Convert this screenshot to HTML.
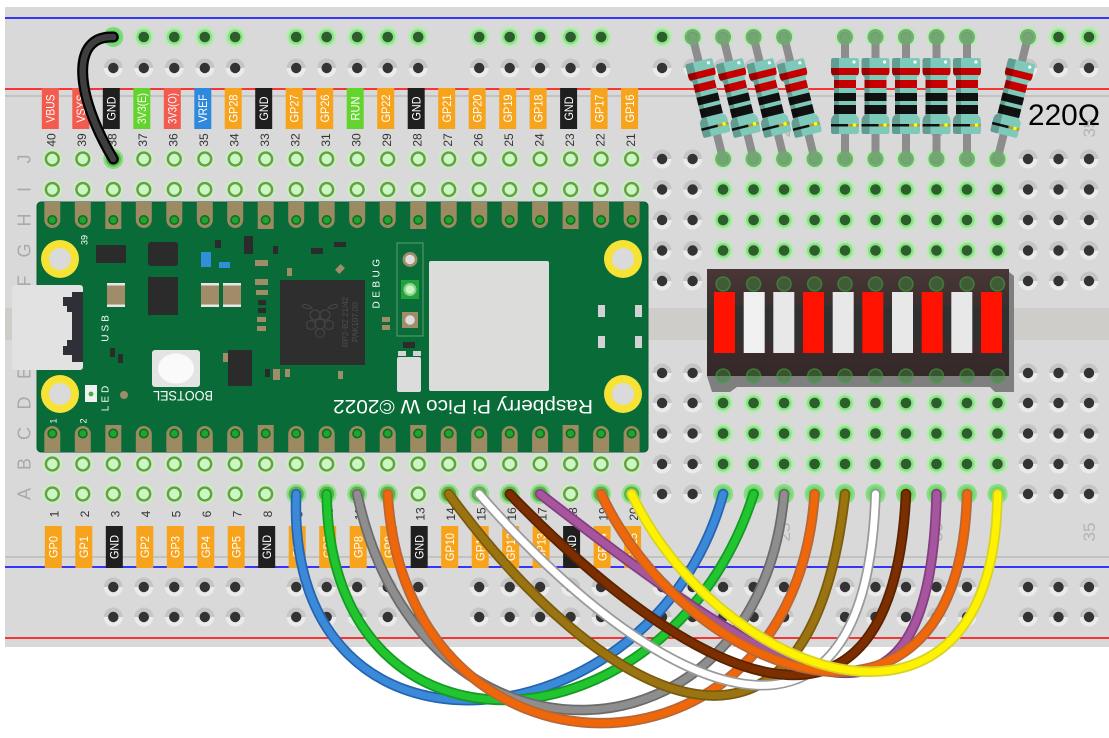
<!DOCTYPE html>
<html><head><meta charset="utf-8"><style>
html,body{margin:0;padding:0;background:#fff;}
svg{display:block;}
.lb{fill:#fff;font-family:"Liberation Sans",sans-serif;font-size:12px;text-anchor:middle;}
.nm{fill:#333;font-family:"Liberation Sans",sans-serif;font-size:12px;text-anchor:middle;}
.rw{fill:#a9a9a9;font-family:"Liberation Sans",sans-serif;font-size:18px;text-anchor:middle;}
.fn{fill:#b3b3b3;font-family:"Liberation Sans",sans-serif;font-size:17px;text-anchor:middle;}
.pw{fill:#fff;font-family:"Liberation Sans",sans-serif;text-anchor:middle;}
</style></head><body>
<svg width="1109" height="738" viewBox="0 0 1109 738" xmlns="http://www.w3.org/2000/svg" xmlns:xlink="http://www.w3.org/1999/xlink">
<defs>
<linearGradient id="gg" x1="0" y1="0" x2="0" y2="1"><stop offset="0.5" stop-color="#c5c5c5"/><stop offset="0.5" stop-color="#ebebeb"/></linearGradient>
<linearGradient id="bar" x1="0" y1="0" x2="0" y2="1"><stop offset="0" stop-color="#4a3636"/><stop offset="0.33" stop-color="#3c2f2f"/><stop offset="0.36" stop-color="#303030"/><stop offset="0.66" stop-color="#303030"/><stop offset="0.7" stop-color="#3a2c2c"/><stop offset="1" stop-color="#352828"/></linearGradient>
<g id="hg"><circle r="9.5" fill="url(#gg)"/><circle r="5.2" fill="#333"/></g>
<g id="hn"><circle r="10" fill="#b6ecb1"/><circle r="7.6" fill="#8fe08b"/><circle r="5.3" fill="#2c5e2c"/></g>
<g id="hp"><circle r="10" fill="#c6efbf"/><circle r="7.6" fill="#6c9c49"/><circle r="5.2" fill="#c8f9c1"/></g>
<g id="cP"><use href="#hp" y="159"/><use href="#hp" y="189.5"/><use href="#hp" y="464"/><use href="#hp" y="494"/></g>
<g id="cG"><use href="#hg" y="159"/><use href="#hg" y="189.5"/><use href="#hg" y="220"/><use href="#hg" y="250.5"/><use href="#hg" y="281"/><use href="#hg" y="373"/><use href="#hg" y="403"/><use href="#hg" y="433.5"/><use href="#hg" y="464"/><use href="#hg" y="494"/></g>
<g id="cN"><use href="#hn" y="159"/><use href="#hn" y="189.5"/><use href="#hn" y="220"/><use href="#hn" y="250.5"/><use href="#hn" y="281"/><use href="#hn" y="373"/><use href="#hn" y="403"/><use href="#hn" y="433.5"/><use href="#hn" y="464"/><use href="#hn" y="494"/></g>
<g id="rl"><use href="#hn" y="37"/><use href="#hg" y="68"/><use href="#hg" y="587"/><use href="#hg" y="617"/></g>
<clipPath id="rc"><path d="M-12,-38 H12 Q14,-38 14,-35 V-25 Q14,-21 11,-19 V19 Q14,21 14,25 V35 Q14,38 12,38 H-12 Q-14,38 -14,35 V25 Q-14,21 -11,19 V-19 Q-14,-21 -14,-25 V-35 Q-14,-38 -12,-38 Z"/></clipPath>
<g id="res">
<path d="M-12,-38 H12 Q14,-38 14,-35 V-25 Q14,-21 11,-19 V19 Q14,21 14,25 V35 Q14,38 12,38 H-12 Q-14,38 -14,35 V25 Q-14,21 -11,19 V-19 Q-14,-21 -14,-25 V-35 Q-14,-38 -12,-38 Z" fill="#7dc9ba"/>
<g clip-path="url(#rc)">
<rect x="-15" y="-28" width="30" height="7" fill="#c60000"/>
<rect x="-15" y="-16" width="30" height="8" fill="#c60000"/>
<rect x="-15" y="-3" width="30" height="8" fill="#111"/>
<rect x="-15" y="9" width="30" height="9" fill="#111"/>
<rect x="-15" y="28" width="18" height="2.5" fill="#111"/>
<rect x="3" y="28" width="12" height="2.5" fill="#b89a3a"/>
<rect x="-15" y="-40" width="9" height="80" fill="#000" opacity="0.22"/>
</g>
<circle cx="9" cy="-34" r="1.6" fill="#fff"/>
<circle cx="9.5" cy="29" r="1.8" fill="#ff0"/>
</g>
<g id="pt"><path d="M-8,202 h16 v18 a8,8 0 0 1 -16,0 z" fill="#9b8a62"/><circle cy="220" r="5" fill="#0c6f1e"/><circle cy="220" r="3.4" fill="#22a331"/></g>
<g id="pts"><rect x="-8" y="202" width="16" height="27" fill="#9b8a62"/><circle cy="220" r="5" fill="#0c6f1e"/><circle cy="220" r="3.4" fill="#22a331"/></g>
<g id="pb"><path d="M-8,452 v-18 a8,8 0 0 1 16,0 v18 z" fill="#9b8a62"/><circle cy="433.5" r="5" fill="#0c6f1e"/><circle cy="433.5" r="3.4" fill="#22a331"/></g>
<g id="pbs"><rect x="-8" y="425" width="16" height="27" fill="#9b8a62"/><circle cy="433.5" r="5" fill="#0c6f1e"/><circle cy="433.5" r="3.4" fill="#22a331"/></g>
<g id="mh"><circle r="19" fill="#f6e336"/><circle r="11" fill="#dadada"/></g>
</defs>

<!-- breadboard -->
<rect x="5" y="7" width="1104" height="640" fill="#d9d9d9"/>
<rect x="5" y="308" width="1104" height="32" fill="#cfcdca"/>
<line x1="5" y1="18" x2="1109" y2="18" stroke="#0000ff" stroke-width="1.6"/>
<line x1="5" y1="89" x2="1109" y2="89" stroke="#ff0000" stroke-width="1.6"/>
<line x1="5" y1="96" x2="1109" y2="96" stroke="#b5b5b5" stroke-width="1.2"/>
<line x1="5" y1="557" x2="1109" y2="557" stroke="#b5b5b5" stroke-width="1.2"/>
<line x1="5" y1="567" x2="1109" y2="567" stroke="#0000ff" stroke-width="1.6"/>
<line x1="5" y1="638" x2="1109" y2="638" stroke="#ff0000" stroke-width="1.6"/>

<!-- row letters -->
<g class="rw">
<text transform="translate(24,159) rotate(-90)" dy="0.36em">J</text>
<text transform="translate(24,189.5) rotate(-90)" dy="0.36em">I</text>
<text transform="translate(24,220) rotate(-90)" dy="0.36em">H</text>
<text transform="translate(24,250.5) rotate(-90)" dy="0.36em">G</text>
<text transform="translate(24,281) rotate(-90)" dy="0.36em">F</text>
<text transform="translate(24,373) rotate(-90)" dy="0.36em">E</text>
<text transform="translate(24,403) rotate(-90)" dy="0.36em">D</text>
<text transform="translate(24,433.5) rotate(-90)" dy="0.36em">C</text>
<text transform="translate(24,464) rotate(-90)" dy="0.36em">B</text>
<text transform="translate(24,494) rotate(-90)" dy="0.36em">A</text>
</g>
<g class="fn">
<text transform="translate(784.1,128) rotate(-90)" dy="0.36em">25</text>
<text transform="translate(936.5,128) rotate(-90)" dy="0.36em">30</text>
<text transform="translate(1089,128) rotate(-90)" dy="0.36em">35</text>
<text transform="translate(784.1,532) rotate(-90)" dy="0.36em">25</text>
<text transform="translate(936.5,532) rotate(-90)" dy="0.36em">30</text>
<text transform="translate(1089,532) rotate(-90)" dy="0.36em">35</text>
</g>

<!-- holes -->
<use href="#cP" x="52.3"/><use href="#cP" x="82.8"/><use href="#cP" x="113.3"/><use href="#cP" x="143.8"/><use href="#cP" x="174.3"/>
<use href="#cP" x="204.8"/><use href="#cP" x="235.2"/><use href="#cP" x="265.7"/><use href="#cP" x="296.2"/><use href="#cP" x="326.7"/>
<use href="#cP" x="357.2"/><use href="#cP" x="387.7"/><use href="#cP" x="418.2"/><use href="#cP" x="448.7"/><use href="#cP" x="479.2"/>
<use href="#cP" x="509.7"/><use href="#cP" x="540.1"/><use href="#cP" x="570.6"/><use href="#cP" x="601.1"/><use href="#cP" x="631.6"/>
<use href="#cG" x="662.1"/><use href="#cG" x="692.6"/>
<use href="#cN" x="723.1"/><use href="#cN" x="753.6"/><use href="#cN" x="784.1"/><use href="#cN" x="814.6"/><use href="#cN" x="845"/>
<use href="#cN" x="875.5"/><use href="#cN" x="906"/><use href="#cN" x="936.5"/><use href="#cN" x="967"/><use href="#cN" x="997.5"/>
<use href="#cG" x="1028"/><use href="#cG" x="1058.5"/><use href="#cG" x="1089"/>
<!-- rails -->
<use href="#rl" x="113.3"/><use href="#rl" x="143.8"/><use href="#rl" x="174.3"/><use href="#rl" x="204.8"/><use href="#rl" x="235.2"/>
<use href="#rl" x="296.2"/><use href="#rl" x="326.7"/><use href="#rl" x="357.2"/><use href="#rl" x="387.7"/><use href="#rl" x="418.2"/>
<use href="#rl" x="479.2"/><use href="#rl" x="509.7"/><use href="#rl" x="540.1"/><use href="#rl" x="570.6"/><use href="#rl" x="601.1"/>
<use href="#rl" x="662.1"/><use href="#rl" x="692.6"/><use href="#rl" x="723.1"/><use href="#rl" x="753.6"/><use href="#rl" x="784.1"/>
<use href="#rl" x="845"/><use href="#rl" x="875.5"/><use href="#rl" x="906"/><use href="#rl" x="936.5"/><use href="#rl" x="967"/>
<use href="#rl" x="1028"/><use href="#rl" x="1058.5"/><use href="#rl" x="1089"/>

<!-- top pin labels -->
<g class="lb">
<g transform="translate(50.3,108.5)"><rect x="-8.5" y="-20.5" width="17" height="41" fill="#f25b4d"/><text transform="rotate(-90)" dy="0.36em" textLength="28" lengthAdjust="spacingAndGlyphs">VBUS</text></g>
<g transform="translate(80.8,108.5)"><rect x="-8.5" y="-20.5" width="17" height="41" fill="#f25b4d"/><text transform="rotate(-90)" dy="0.36em" textLength="28" lengthAdjust="spacingAndGlyphs">VSYS</text></g>
<g transform="translate(111.3,108.5)"><rect x="-8.5" y="-20.5" width="17" height="41" fill="#1f1f1f"/><text transform="rotate(-90)" dy="0.36em" textLength="24" lengthAdjust="spacingAndGlyphs">GND</text></g>
<g transform="translate(141.8,108.5)"><rect x="-8.5" y="-20.5" width="17" height="41" fill="#63d42e"/><text transform="rotate(-90)" dy="0.36em" textLength="31" lengthAdjust="spacingAndGlyphs">3V3(E)</text></g>
<g transform="translate(172.3,108.5)"><rect x="-8.5" y="-20.5" width="17" height="41" fill="#f25b4d"/><text transform="rotate(-90)" dy="0.36em" textLength="31" lengthAdjust="spacingAndGlyphs">3V3(O)</text></g>
<g transform="translate(202.8,108.5)"><rect x="-8.5" y="-20.5" width="17" height="41" fill="#2e88dc"/><text transform="rotate(-90)" dy="0.36em" textLength="28" lengthAdjust="spacingAndGlyphs">VREF</text></g>
<g transform="translate(233.2,108.5)"><rect x="-8.5" y="-20.5" width="17" height="41" fill="#f7a41c"/><text transform="rotate(-90)" dy="0.36em" textLength="28" lengthAdjust="spacingAndGlyphs">GP28</text></g>
<g transform="translate(263.7,108.5)"><rect x="-8.5" y="-20.5" width="17" height="41" fill="#1f1f1f"/><text transform="rotate(-90)" dy="0.36em" textLength="24" lengthAdjust="spacingAndGlyphs">GND</text></g>
<g transform="translate(294.2,108.5)"><rect x="-8.5" y="-20.5" width="17" height="41" fill="#f7a41c"/><text transform="rotate(-90)" dy="0.36em" textLength="28" lengthAdjust="spacingAndGlyphs">GP27</text></g>
<g transform="translate(324.7,108.5)"><rect x="-8.5" y="-20.5" width="17" height="41" fill="#f7a41c"/><text transform="rotate(-90)" dy="0.36em" textLength="28" lengthAdjust="spacingAndGlyphs">GP26</text></g>
<g transform="translate(355.2,108.5)"><rect x="-8.5" y="-20.5" width="17" height="41" fill="#63d42e"/><text transform="rotate(-90)" dy="0.36em" textLength="24" lengthAdjust="spacingAndGlyphs">RUN</text></g>
<g transform="translate(385.7,108.5)"><rect x="-8.5" y="-20.5" width="17" height="41" fill="#f7a41c"/><text transform="rotate(-90)" dy="0.36em" textLength="28" lengthAdjust="spacingAndGlyphs">GP22</text></g>
<g transform="translate(416.2,108.5)"><rect x="-8.5" y="-20.5" width="17" height="41" fill="#1f1f1f"/><text transform="rotate(-90)" dy="0.36em" textLength="24" lengthAdjust="spacingAndGlyphs">GND</text></g>
<g transform="translate(446.7,108.5)"><rect x="-8.5" y="-20.5" width="17" height="41" fill="#f7a41c"/><text transform="rotate(-90)" dy="0.36em" textLength="28" lengthAdjust="spacingAndGlyphs">GP21</text></g>
<g transform="translate(477.2,108.5)"><rect x="-8.5" y="-20.5" width="17" height="41" fill="#f7a41c"/><text transform="rotate(-90)" dy="0.36em" textLength="28" lengthAdjust="spacingAndGlyphs">GP20</text></g>
<g transform="translate(507.7,108.5)"><rect x="-8.5" y="-20.5" width="17" height="41" fill="#f7a41c"/><text transform="rotate(-90)" dy="0.36em" textLength="28" lengthAdjust="spacingAndGlyphs">GP19</text></g>
<g transform="translate(538.1,108.5)"><rect x="-8.5" y="-20.5" width="17" height="41" fill="#f7a41c"/><text transform="rotate(-90)" dy="0.36em" textLength="28" lengthAdjust="spacingAndGlyphs">GP18</text></g>
<g transform="translate(568.6,108.5)"><rect x="-8.5" y="-20.5" width="17" height="41" fill="#1f1f1f"/><text transform="rotate(-90)" dy="0.36em" textLength="24" lengthAdjust="spacingAndGlyphs">GND</text></g>
<g transform="translate(599.1,108.5)"><rect x="-8.5" y="-20.5" width="17" height="41" fill="#f7a41c"/><text transform="rotate(-90)" dy="0.36em" textLength="28" lengthAdjust="spacingAndGlyphs">GP17</text></g>
<g transform="translate(629.6,108.5)"><rect x="-8.5" y="-20.5" width="17" height="41" fill="#f7a41c"/><text transform="rotate(-90)" dy="0.36em" textLength="28" lengthAdjust="spacingAndGlyphs">GP16</text></g>
</g>
<!-- bottom pin labels -->
<g class="lb">
<g transform="translate(53.3,547)"><rect x="-8.5" y="-21" width="17" height="42" fill="#f7a41c"/><text transform="rotate(-90)" dy="0.36em" textLength="22" lengthAdjust="spacingAndGlyphs">GP0</text></g>
<g transform="translate(83.8,547)"><rect x="-8.5" y="-21" width="17" height="42" fill="#f7a41c"/><text transform="rotate(-90)" dy="0.36em" textLength="22" lengthAdjust="spacingAndGlyphs">GP1</text></g>
<g transform="translate(114.3,547)"><rect x="-8.5" y="-21" width="17" height="42" fill="#1f1f1f"/><text transform="rotate(-90)" dy="0.36em" textLength="24" lengthAdjust="spacingAndGlyphs">GND</text></g>
<g transform="translate(144.8,547)"><rect x="-8.5" y="-21" width="17" height="42" fill="#f7a41c"/><text transform="rotate(-90)" dy="0.36em" textLength="22" lengthAdjust="spacingAndGlyphs">GP2</text></g>
<g transform="translate(175.3,547)"><rect x="-8.5" y="-21" width="17" height="42" fill="#f7a41c"/><text transform="rotate(-90)" dy="0.36em" textLength="22" lengthAdjust="spacingAndGlyphs">GP3</text></g>
<g transform="translate(205.8,547)"><rect x="-8.5" y="-21" width="17" height="42" fill="#f7a41c"/><text transform="rotate(-90)" dy="0.36em" textLength="22" lengthAdjust="spacingAndGlyphs">GP4</text></g>
<g transform="translate(236.2,547)"><rect x="-8.5" y="-21" width="17" height="42" fill="#f7a41c"/><text transform="rotate(-90)" dy="0.36em" textLength="22" lengthAdjust="spacingAndGlyphs">GP5</text></g>
<g transform="translate(266.7,547)"><rect x="-8.5" y="-21" width="17" height="42" fill="#1f1f1f"/><text transform="rotate(-90)" dy="0.36em" textLength="24" lengthAdjust="spacingAndGlyphs">GND</text></g>
<g transform="translate(297.2,547)"><rect x="-8.5" y="-21" width="17" height="42" fill="#f7a41c"/><text transform="rotate(-90)" dy="0.36em" textLength="22" lengthAdjust="spacingAndGlyphs">GP6</text></g>
<g transform="translate(327.7,547)"><rect x="-8.5" y="-21" width="17" height="42" fill="#f7a41c"/><text transform="rotate(-90)" dy="0.36em" textLength="22" lengthAdjust="spacingAndGlyphs">GP7</text></g>
<g transform="translate(358.2,547)"><rect x="-8.5" y="-21" width="17" height="42" fill="#f7a41c"/><text transform="rotate(-90)" dy="0.36em" textLength="22" lengthAdjust="spacingAndGlyphs">GP8</text></g>
<g transform="translate(388.7,547)"><rect x="-8.5" y="-21" width="17" height="42" fill="#f7a41c"/><text transform="rotate(-90)" dy="0.36em" textLength="22" lengthAdjust="spacingAndGlyphs">GP9</text></g>
<g transform="translate(419.2,547)"><rect x="-8.5" y="-21" width="17" height="42" fill="#1f1f1f"/><text transform="rotate(-90)" dy="0.36em" textLength="24" lengthAdjust="spacingAndGlyphs">GND</text></g>
<g transform="translate(449.7,547)"><rect x="-8.5" y="-21" width="17" height="42" fill="#f7a41c"/><text transform="rotate(-90)" dy="0.36em" textLength="28" lengthAdjust="spacingAndGlyphs">GP10</text></g>
<g transform="translate(480.2,547)"><rect x="-8.5" y="-21" width="17" height="42" fill="#f7a41c"/><text transform="rotate(-90)" dy="0.36em" textLength="28" lengthAdjust="spacingAndGlyphs">GP11</text></g>
<g transform="translate(510.7,547)"><rect x="-8.5" y="-21" width="17" height="42" fill="#f7a41c"/><text transform="rotate(-90)" dy="0.36em" textLength="28" lengthAdjust="spacingAndGlyphs">GP12</text></g>
<g transform="translate(541.1,547)"><rect x="-8.5" y="-21" width="17" height="42" fill="#f7a41c"/><text transform="rotate(-90)" dy="0.36em" textLength="28" lengthAdjust="spacingAndGlyphs">GP13</text></g>
<g transform="translate(571.6,547)"><rect x="-8.5" y="-21" width="17" height="42" fill="#1f1f1f"/><text transform="rotate(-90)" dy="0.36em" textLength="24" lengthAdjust="spacingAndGlyphs">GND</text></g>
<g transform="translate(602.1,547)"><rect x="-8.5" y="-21" width="17" height="42" fill="#f7a41c"/><text transform="rotate(-90)" dy="0.36em" textLength="28" lengthAdjust="spacingAndGlyphs">GP14</text></g>
<g transform="translate(632.6,547)"><rect x="-8.5" y="-21" width="17" height="42" fill="#f7a41c"/><text transform="rotate(-90)" dy="0.36em" textLength="28" lengthAdjust="spacingAndGlyphs">GP15</text></g>
</g>
<!-- pin numbers -->
<g class="nm">
<text transform="translate(51.3,140) rotate(-90)" dy="0.36em">40</text>
<text transform="translate(81.8,140) rotate(-90)" dy="0.36em">39</text>
<text transform="translate(112.3,140) rotate(-90)" dy="0.36em">38</text>
<text transform="translate(142.8,140) rotate(-90)" dy="0.36em">37</text>
<text transform="translate(173.3,140) rotate(-90)" dy="0.36em">36</text>
<text transform="translate(203.8,140) rotate(-90)" dy="0.36em">35</text>
<text transform="translate(234.2,140) rotate(-90)" dy="0.36em">34</text>
<text transform="translate(264.7,140) rotate(-90)" dy="0.36em">33</text>
<text transform="translate(295.2,140) rotate(-90)" dy="0.36em">32</text>
<text transform="translate(325.7,140) rotate(-90)" dy="0.36em">31</text>
<text transform="translate(356.2,140) rotate(-90)" dy="0.36em">30</text>
<text transform="translate(386.7,140) rotate(-90)" dy="0.36em">29</text>
<text transform="translate(417.2,140) rotate(-90)" dy="0.36em">28</text>
<text transform="translate(447.7,140) rotate(-90)" dy="0.36em">27</text>
<text transform="translate(478.2,140) rotate(-90)" dy="0.36em">26</text>
<text transform="translate(508.7,140) rotate(-90)" dy="0.36em">25</text>
<text transform="translate(539.1,140) rotate(-90)" dy="0.36em">24</text>
<text transform="translate(569.6,140) rotate(-90)" dy="0.36em">23</text>
<text transform="translate(600.1,140) rotate(-90)" dy="0.36em">22</text>
<text transform="translate(630.6,140) rotate(-90)" dy="0.36em">21</text>
<text transform="translate(54.3,514) rotate(-90)" dy="0.36em">1</text>
<text transform="translate(84.8,514) rotate(-90)" dy="0.36em">2</text>
<text transform="translate(115.3,514) rotate(-90)" dy="0.36em">3</text>
<text transform="translate(145.8,514) rotate(-90)" dy="0.36em">4</text>
<text transform="translate(176.3,514) rotate(-90)" dy="0.36em">5</text>
<text transform="translate(206.8,514) rotate(-90)" dy="0.36em">6</text>
<text transform="translate(237.2,514) rotate(-90)" dy="0.36em">7</text>
<text transform="translate(267.7,514) rotate(-90)" dy="0.36em">8</text>
<text transform="translate(298.2,514) rotate(-90)" dy="0.36em">9</text>
<text transform="translate(328.7,514) rotate(-90)" dy="0.36em">10</text>
<text transform="translate(359.2,514) rotate(-90)" dy="0.36em">11</text>
<text transform="translate(389.7,514) rotate(-90)" dy="0.36em">12</text>
<text transform="translate(420.2,514) rotate(-90)" dy="0.36em">13</text>
<text transform="translate(450.7,514) rotate(-90)" dy="0.36em">14</text>
<text transform="translate(481.2,514) rotate(-90)" dy="0.36em">15</text>
<text transform="translate(511.7,514) rotate(-90)" dy="0.36em">16</text>
<text transform="translate(542.1,514) rotate(-90)" dy="0.36em">17</text>
<text transform="translate(572.6,514) rotate(-90)" dy="0.36em">18</text>
<text transform="translate(603.1,514) rotate(-90)" dy="0.36em">19</text>
<text transform="translate(633.6,514) rotate(-90)" dy="0.36em">20</text>
</g>

<!-- Pico W board -->
<rect x="37" y="202" width="611" height="250" rx="4" fill="#086b38" stroke="#0b5c30" stroke-width="1"/>
<use href="#pt" x="52.3"/><use href="#pt" x="82.8"/><use href="#pts" x="113.3"/><use href="#pt" x="143.8"/><use href="#pt" x="174.3"/>
<use href="#pt" x="204.8"/><use href="#pt" x="235.2"/><use href="#pts" x="265.7"/><use href="#pt" x="296.2"/><use href="#pt" x="326.7"/>
<use href="#pt" x="357.2"/><use href="#pt" x="387.7"/><use href="#pts" x="418.2"/><use href="#pt" x="448.7"/><use href="#pt" x="479.2"/>
<use href="#pt" x="509.7"/><use href="#pt" x="540.1"/><use href="#pts" x="570.6"/><use href="#pt" x="601.1"/><use href="#pt" x="631.6"/>
<use href="#pb" x="52.3"/><use href="#pb" x="82.8"/><use href="#pbs" x="113.3"/><use href="#pb" x="143.8"/><use href="#pb" x="174.3"/>
<use href="#pb" x="204.8"/><use href="#pb" x="235.2"/><use href="#pbs" x="265.7"/><use href="#pb" x="296.2"/><use href="#pb" x="326.7"/>
<use href="#pb" x="357.2"/><use href="#pb" x="387.7"/><use href="#pbs" x="418.2"/><use href="#pb" x="448.7"/><use href="#pb" x="479.2"/>
<use href="#pb" x="509.7"/><use href="#pb" x="540.1"/><use href="#pbs" x="570.6"/><use href="#pb" x="601.1"/><use href="#pb" x="631.6"/>
<use href="#mh" x="60" y="259"/><use href="#mh" x="60" y="394"/><use href="#mh" x="623" y="259"/><use href="#mh" x="623" y="394"/>
<!-- USB -->
<rect x="12" y="285" width="71" height="85" rx="3" fill="#e2e2e2"/>
<g fill="#2f2f37">
<rect x="72" y="292" width="11" height="70"/>
<rect x="63" y="297" width="10" height="9"/>
<rect x="63" y="346" width="10" height="9"/>
<rect x="67" y="306" width="6" height="6"/>
<rect x="67" y="340" width="6" height="6"/>
</g>
<!-- chips -->
<g fill="#2b2b2b">
<rect x="96" y="245" width="30" height="18"/>
<rect x="148" y="242" width="30" height="24" rx="3"/>
<rect x="148" y="277" width="30" height="38"/>
<rect x="228" y="350" width="24" height="36"/>
<rect x="244" y="236" width="9" height="18"/>
<rect x="215" y="240" width="6" height="8"/>
<rect x="273" y="246" width="5" height="8"/>
<rect x="311" y="248" width="12" height="6"/>
<rect x="334" y="242" width="12" height="5"/>
<rect x="258" y="300" width="8" height="5"/>
<rect x="258" y="308" width="8" height="5"/>
<rect x="110" y="348" width="5" height="9"/>
<rect x="118" y="354" width="5" height="9"/>
<rect x="265" y="369" width="5" height="8"/>
<rect x="403" y="342" width="12" height="6"/>
</g>
<rect x="280" y="280" width="85" height="85" fill="#2e2e2e"/>
<g fill="none" stroke="#444" stroke-width="1.2">
<circle cx="315" cy="315" r="5"/><circle cx="325" cy="315" r="5"/><circle cx="320" cy="324" r="5"/><circle cx="311" cy="325" r="4.5"/><circle cx="329" cy="325" r="4.5"/><circle cx="320" cy="333" r="4.5"/>
<path d="M312,308 q-6,-6 -10,-2 q4,4 10,2 M328,308 q6,-6 10,-2 q-4,4 -10,2"/>
</g>
<text transform="translate(345,322) rotate(-90)" dy="0.36em" font-family="Liberation Sans, sans-serif" font-size="8" fill="#4e4e4e" text-anchor="middle">RP2-B2   21/42</text>
<text transform="translate(355,322) rotate(-90)" dy="0.36em" font-family="Liberation Sans, sans-serif" font-size="8" fill="#4e4e4e" text-anchor="middle">PAK107.00</text>
<!-- caps / tan parts -->
<g fill="#a08c68">
<rect x="107" y="283" width="18" height="24"/>
<rect x="201" y="283" width="18" height="24"/>
<rect x="223" y="283" width="18" height="24"/>
<rect x="255" y="260" width="13" height="6"/>
<rect x="287" y="268" width="5" height="8"/>
<rect x="255" y="279" width="13" height="6"/>
<rect x="256" y="290" width="12" height="5"/>
<rect x="257" y="317" width="9" height="5"/>
<rect x="257" y="326" width="9" height="5"/>
<rect x="223" y="353" width="5" height="9"/>
<rect x="273" y="369" width="7" height="11"/>
<rect x="285" y="369" width="5" height="8"/>
<rect x="338" y="371" width="5" height="8"/>
<rect x="382" y="317" width="8" height="5"/>
<rect x="382" y="325" width="8" height="5"/>
<rect x="336" y="266" width="8" height="6" transform="rotate(-45 340 269)"/>
<circle cx="124" cy="395" r="4"/>
</g>
<g fill="#e6e6e6">
<rect x="107" y="283" width="18" height="2.5"/><rect x="107" y="304.5" width="18" height="2.5"/>
<rect x="201" y="283" width="18" height="2.5"/><rect x="201" y="304.5" width="18" height="2.5"/>
<rect x="223" y="283" width="18" height="2.5"/><rect x="223" y="304.5" width="18" height="2.5"/>
</g>
<rect x="201" y="252" width="10" height="15" fill="#2f8fd8"/>
<rect x="219" y="262" width="11" height="6" fill="#2f8fd8"/>
<!-- LED -->
<rect x="85" y="385" width="12" height="17" fill="#f0f0f0"/>
<circle cx="91" cy="394" r="2.4" fill="#3cb33c"/>
<!-- BOOTSEL -->
<rect x="152" y="350" width="48" height="37" rx="3" fill="#e4e4e4"/>
<ellipse cx="176" cy="368.5" rx="18" ry="15" fill="#fafafa"/>
<!-- debug header -->
<rect x="397" y="243" width="26" height="93" fill="none" stroke="#5f9f70" stroke-width="1"/>
<circle cx="410" cy="259.5" r="7.5" fill="#a08c68"/><circle cx="410" cy="259.5" r="4.8" fill="#dcdcdc"/>
<rect x="401" y="280" width="18" height="19" fill="#1fa33a"/><circle cx="410" cy="289.5" r="6.5" fill="#8fd08f"/><circle cx="410" cy="289.5" r="4.3" fill="#c9f5c0"/>
<rect x="402" y="312" width="16" height="16" fill="#a08c68"/><circle cx="410" cy="320" r="4.8" fill="#dcdcdc"/>
<rect x="398" y="351" width="8" height="5" fill="#d4d4d4"/><rect x="413" y="351" width="8" height="5" fill="#d4d4d4"/>
<rect x="397" y="357" width="24" height="35" rx="2" fill="#dcdcdc"/>
<!-- wifi module -->
<rect x="429" y="261" width="120" height="130" rx="2" fill="#dcdddb"/>
<g fill="#d2d2d2">
<rect x="598" y="305" width="7" height="12"/><rect x="635" y="305" width="7" height="12"/>
<rect x="598" y="336" width="7" height="12"/><rect x="635" y="336" width="7" height="12"/>
</g>
<!-- pico text -->
<g class="pw">
<text transform="translate(105,327) rotate(-90)" dy="0.36em" font-size="10" letter-spacing="3">USB</text>
<text transform="translate(105,397) rotate(-90)" dy="0.36em" font-size="10" letter-spacing="3">LED</text>
<text transform="translate(376,282) rotate(-90)" dy="0.36em" font-size="10" letter-spacing="3.5">DEBUG</text>
<text transform="translate(84,240) rotate(-90)" dy="0.36em" font-size="9">39</text>
<text transform="translate(53,421) rotate(-90)" dy="0.36em" font-size="9">1</text>
<text transform="translate(83,421) rotate(-90)" dy="0.36em" font-size="9">2</text>
<text transform="translate(183,396) rotate(180)" dy="0.36em" font-size="14" textLength="60" lengthAdjust="spacingAndGlyphs">BOOTSEL</text>
<text transform="translate(463,407) rotate(180)" dy="0.36em" font-size="19" textLength="260" lengthAdjust="spacingAndGlyphs">Raspberry Pi Pico W ©2022</text>
</g>

<!-- LED bar graph -->
<path d="M1009,272 L1014,276 L1014,392 L995,392 L990,387 L737,387 L730,392 L712,392 L707,376 Z" fill="#7f7f7f"/>
<rect x="707" y="269" width="302" height="107" fill="url(#bar)"/>
<rect x="714" y="292" width="21" height="61" fill="#ff1200"/>
<rect x="743.7" y="292" width="21" height="61" fill="#f0f0f0"/>
<rect x="773.3" y="292" width="21" height="61" fill="#e8e8e8"/>
<rect x="803" y="292" width="21" height="61" fill="#ff1200"/>
<rect x="832.7" y="292" width="21" height="61" fill="#e8e8e8"/>
<rect x="862.3" y="292" width="21" height="61" fill="#ff1200"/>
<rect x="892" y="292" width="21" height="61" fill="#e8e8e8"/>
<rect x="921.7" y="292" width="21" height="61" fill="#ff1200"/>
<rect x="951.3" y="292" width="21" height="61" fill="#e8e8e8"/>
<rect x="981" y="292" width="21" height="61" fill="#ff1200"/>
<g fill="#3a8f3a" fill-opacity="0.45" stroke="#3fa03f" stroke-opacity="0.6" stroke-width="1.5">
<circle cx="723.1" cy="284" r="7"/><circle cx="753.6" cy="284" r="7"/><circle cx="784.1" cy="284" r="7"/><circle cx="814.6" cy="284" r="7"/><circle cx="845" cy="284" r="7"/>
<circle cx="875.5" cy="284" r="7"/><circle cx="906" cy="284" r="7"/><circle cx="936.5" cy="284" r="7"/><circle cx="967" cy="284" r="7"/><circle cx="997.5" cy="284" r="7"/>
<circle cx="723.1" cy="376" r="7"/><circle cx="753.6" cy="376" r="7"/><circle cx="784.1" cy="376" r="7"/><circle cx="814.6" cy="376" r="7"/><circle cx="845" cy="376" r="7"/>
<circle cx="875.5" cy="376" r="7"/><circle cx="906" cy="376" r="7"/><circle cx="936.5" cy="376" r="7"/><circle cx="967" cy="376" r="7"/><circle cx="997.5" cy="376" r="7"/>
</g>

<!-- resistors -->
<g stroke="#8d8d8d" stroke-width="8" stroke-linecap="round">
<line x1="692.6" y1="37" x2="723.1" y2="159"/>
<line x1="723.1" y1="37" x2="753.6" y2="159"/>
<line x1="753.6" y1="37" x2="784.1" y2="159"/>
<line x1="784.1" y1="37" x2="814.6" y2="159"/>
<line x1="845" y1="37" x2="845" y2="159"/>
<line x1="875.5" y1="37" x2="875.5" y2="159"/>
<line x1="906" y1="37" x2="906" y2="159"/>
<line x1="936.5" y1="37" x2="936.5" y2="159"/>
<line x1="967" y1="37" x2="967" y2="159"/>
<line x1="1028" y1="37" x2="997.5" y2="159"/>
</g>
<g fill="#71a971" opacity="0.9">
<circle cx="692.6" cy="37" r="8"/><circle cx="723.1" cy="37" r="8"/><circle cx="753.6" cy="37" r="8"/><circle cx="784.1" cy="37" r="8"/>
<circle cx="845" cy="37" r="8"/><circle cx="875.5" cy="37" r="8"/><circle cx="906" cy="37" r="8"/><circle cx="936.5" cy="37" r="8"/><circle cx="967" cy="37" r="8"/><circle cx="1028" cy="37" r="8"/>
<circle cx="723.1" cy="159" r="8"/><circle cx="753.6" cy="159" r="8"/><circle cx="784.1" cy="159" r="8"/><circle cx="814.6" cy="159" r="8"/>
<circle cx="845" cy="159" r="8"/><circle cx="875.5" cy="159" r="8"/><circle cx="906" cy="159" r="8"/><circle cx="936.5" cy="159" r="8"/><circle cx="967" cy="159" r="8"/><circle cx="997.5" cy="159" r="8"/>
</g>
<use href="#res" transform="translate(707.85,98) rotate(-14)"/>
<use href="#res" transform="translate(738.35,98) rotate(-14)"/>
<use href="#res" transform="translate(768.85,98) rotate(-14)"/>
<use href="#res" transform="translate(799.35,98) rotate(-14)"/>
<use href="#res" transform="translate(845,96)"/>
<use href="#res" transform="translate(875.5,96)"/>
<use href="#res" transform="translate(906,96)"/>
<use href="#res" transform="translate(936.5,96)"/>
<use href="#res" transform="translate(967,96)"/>
<use href="#res" transform="translate(1012.75,98) rotate(14)"/>
<text x="1028" y="125" font-family="Liberation Sans, sans-serif" font-size="30" fill="#000" textLength="72" lengthAdjust="spacingAndGlyphs">220Ω</text>

<!-- black GND wire -->
<g fill="#4cd04c" fill-opacity="0.55"><circle cx="113.3" cy="37" r="10"/><circle cx="113.3" cy="159" r="10"/></g>
<path d="M113.3,37 C70,35 75,95 113.3,159" fill="none" stroke="#000" stroke-width="11" stroke-linecap="round"/>
<path d="M113.3,37 C70,35 75,95 113.3,159" fill="none" stroke="#3e3e3e" stroke-width="6.5" stroke-linecap="round"/>

<!-- wire end halos -->
<g fill="#4cd04c" fill-opacity="0.45">
<circle cx="296.2" cy="494" r="10"/><circle cx="326.7" cy="494" r="10"/><circle cx="357.2" cy="494" r="10"/><circle cx="387.7" cy="494" r="10"/><circle cx="448.7" cy="494" r="10"/>
<circle cx="479.2" cy="494" r="10"/><circle cx="509.7" cy="494" r="10"/><circle cx="540.1" cy="494" r="10"/><circle cx="601.1" cy="494" r="10"/><circle cx="631.6" cy="494" r="10"/>
<circle cx="723.1" cy="494" r="10"/><circle cx="753.6" cy="494" r="10"/><circle cx="784.1" cy="494" r="10"/><circle cx="814.6" cy="494" r="10"/><circle cx="845" cy="494" r="10"/>
<circle cx="875.5" cy="494" r="10"/><circle cx="906" cy="494" r="10"/><circle cx="936.5" cy="494" r="10"/><circle cx="967" cy="494" r="10"/><circle cx="997.5" cy="494" r="10"/>
</g>
<!-- colored wires -->
<g fill="none" stroke-linecap="round">
<path d="M296.2,494 C285,790 655,747 723.1,494" stroke="#2764b0" stroke-width="10.5"/>
<path d="M296.2,494 C285,790 655,747 723.1,494" stroke="#3b8ad9" stroke-width="7"/>
<path d="M326.7,494 C330,780 670,757 753.6,494" stroke="#169a24" stroke-width="10.5"/>
<path d="M326.7,494 C330,780 670,757 753.6,494" stroke="#20c52f" stroke-width="7"/>
<path d="M357.2,494 C420,790 760,774 784.1,494" stroke="#6b6b6b" stroke-width="10.5"/>
<path d="M357.2,494 C420,790 760,774 784.1,494" stroke="#8e8e8e" stroke-width="7"/>
<path d="M387.7,494 C405,797 794,802 814.6,494" stroke="#b5673a" stroke-width="10.5"/>
<path d="M387.7,494 C405,797 794,802 814.6,494" stroke="#f0670a" stroke-width="7"/>
<path d="M448.7,494 C600,700 809,819 845,494" stroke="#7a5a0e" stroke-width="10.5"/>
<path d="M448.7,494 C600,700 809,819 845,494" stroke="#9b7412" stroke-width="7"/>
<path d="M479.2,494 C650,690 866,802 875.5,494" stroke="#9a9a9a" stroke-width="10.5"/>
<path d="M479.2,494 C650,690 866,802 875.5,494" stroke="#ffffff" stroke-width="7"/>
<path d="M509.7,494 C690,680 892,785 906,494" stroke="#5a2200" stroke-width="10.5"/>
<path d="M509.7,494 C690,680 892,785 906,494" stroke="#7b2f00" stroke-width="7"/>
<path d="M540.1,494 C780,680 930,780 936.5,494" stroke="#833f7e" stroke-width="10.5"/>
<path d="M540.1,494 C780,680 930,780 936.5,494" stroke="#a7559f" stroke-width="7"/>
<path d="M601.1,494 C689,680 960,777 967,494" stroke="#b5673a" stroke-width="10.5"/>
<path d="M601.1,494 C689,680 960,777 967,494" stroke="#f0670a" stroke-width="7"/>
<path d="M631.6,494 C720,680 995,777 997.5,494" stroke="#d6d22a" stroke-width="10.5"/>
<path d="M631.6,494 C720,680 995,777 997.5,494" stroke="#fff200" stroke-width="7"/>
</g>
</svg>
</body></html>
